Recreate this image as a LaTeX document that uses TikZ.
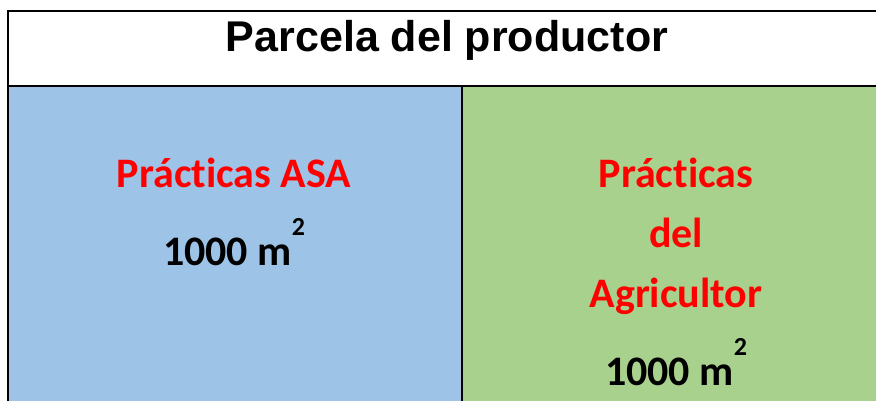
\documentclass[tikz,border=0pt]{standalone}
\usepackage{fontspec}
\setmainfont{Carlito}[Ligatures=CommonOff]
\newfontfamily\titlefont{Liberation Sans}
\definecolor{asablue}{HTML}{9DC3E6}
\definecolor{farmgreen}{HTML}{A9D18E}
\begin{document}
\begin{tikzpicture}[x=1pt, y=-1pt,
    celltext/.style={anchor=base, inner sep=0pt, font=\bfseries\fontsize{42}{50}\selectfont},
    practice/.style={celltext, text=red}]
    \useasboundingbox (0,0) rectangle (876,401);
    % the two plots
    \fill [asablue] (8,86) rectangle (462,401);
    \fill [farmgreen] (462,86) rectangle (876,401);
    \draw [line width=2.5pt] (876,11) -- (8,11) -- (8,401);
    \draw [line width=2.5pt] (8,86) -- (876,86);
    \draw [line width=2pt] (462,86) -- (462,401);
    \node [celltext, font=\titlefont\bfseries\fontsize{43}{50}\selectfont] (title) at (447,52) {Parcela del productor};
    \node [practice] (asa) at (234,188) {Prácticas ASA};
    \node [celltext] (asaarea) at (234,265) {1000 m\raisebox{30pt}{\bfseries\fontsize{26}{26}\selectfont 2}};
    \node [practice] (farmer1) at (676,187) {Prácticas};
    \node [practice] (farmer2) at (676,247) {del};
    \node [practice] (farmer3) at (676,307) {Agricultor};
    \node [celltext] (farmerarea) at (676,385) {1000 m\raisebox{30pt}{\bfseries\fontsize{26}{26}\selectfont 2}};
  \end{tikzpicture}
\end{document}
